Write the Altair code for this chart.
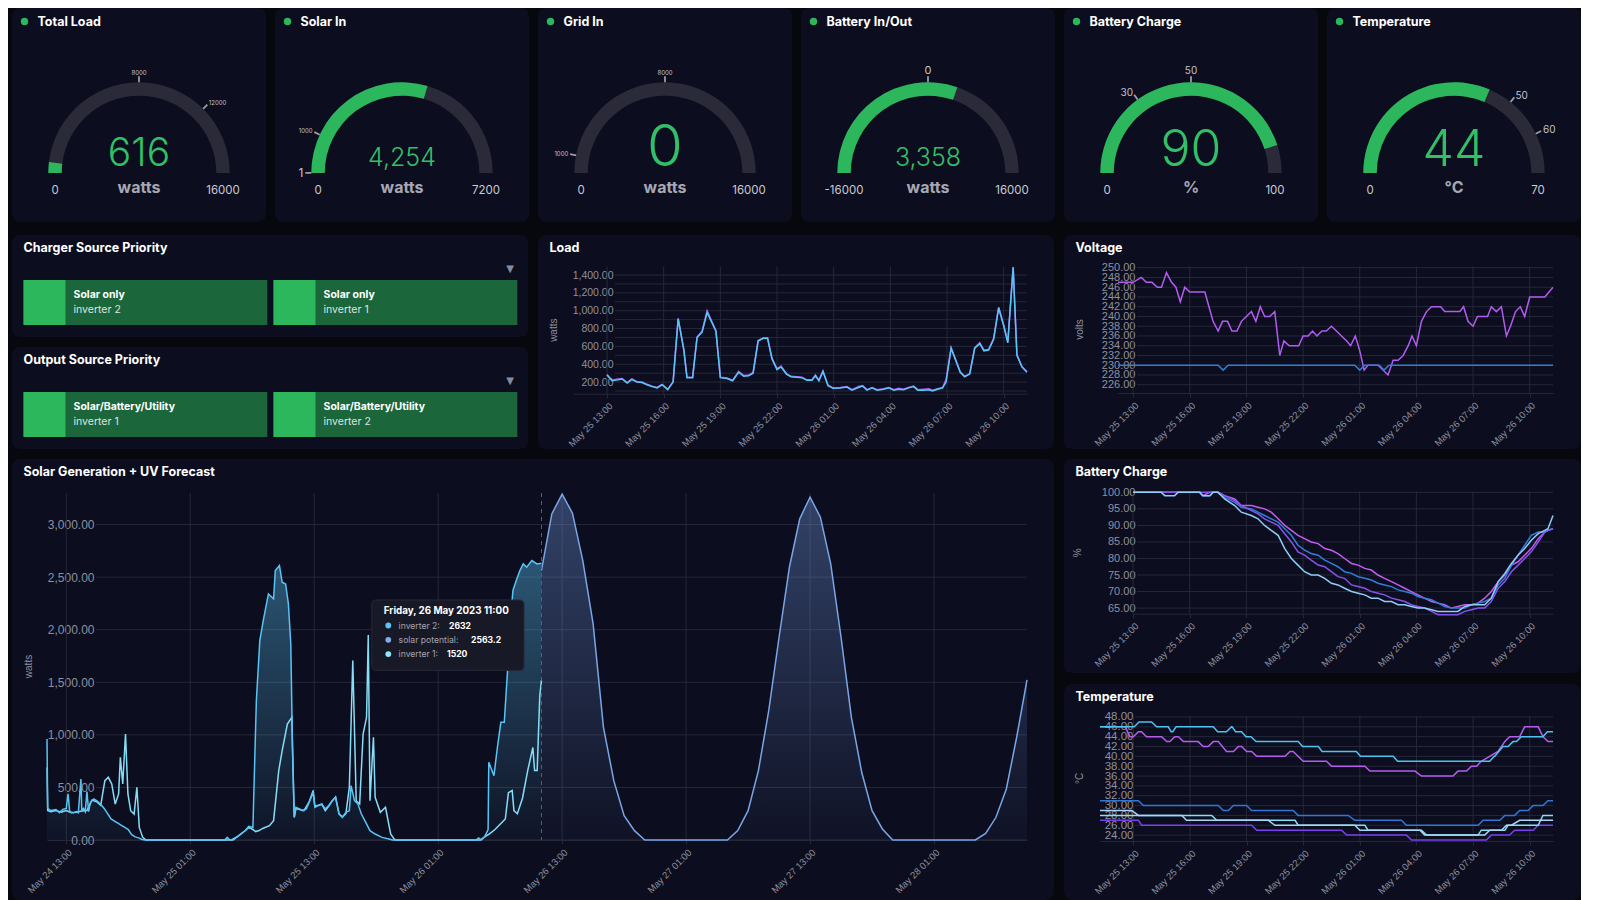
import math
import altair as alt
import pandas as pd

# ------------------------------------------------------------------ data
GAUGE_TITLES = ["Total Load", "Solar In", "Grid In", "Battery In/Out", "Battery Charge", "Temperature"]
GAUGE_VALUES = [616, 4254, 0, 3358, 90, 44]
GAUGE_MIN = [0, 0, 0, -16000, 0, 0]
GAUGE_MAX = [16000, 7200, 16000, 16000, 100, 70]
GAUGE_UNITS = ["watts", "watts", "watts", "watts", "%", "°C"]
GAUGE_MARKS = [[8000, 12000], [1, 1000], [1000, 8000], [0], [30, 50], [50, 60]]

PRIORITY_TITLES = ["Charger Source Priority", "Output Source Priority"]
PRIORITY_MODES = [["Solar only", "Solar only"], ["Solar/Battery/Utility", "Solar/Battery/Utility"]]
PRIORITY_INVERTERS = [["inverter 2", "inverter 1"], ["inverter 1", "inverter 2"]]

DAY_START = "2023-05-25 13:00"
DAY_TICKS = ["2023-05-25 13:00", "2023-05-25 16:00", "2023-05-25 19:00", "2023-05-25 22:00",
             "2023-05-26 01:00", "2023-05-26 04:00", "2023-05-26 07:00", "2023-05-26 10:00"]
LOAD_DOMAIN = ["2023-05-25 11:12", "2023-05-26 11:14"]
VOLT_DOMAIN = ["2023-05-25 12:12", "2023-05-26 11:14"]
BAT_DOMAIN = ["2023-05-25 13:00", "2023-05-26 11:14"]
TEMP_DOMAIN = ["2023-05-25 11:14", "2023-05-26 11:14"]

# minutes after DAY_START
LOAD_MIN = [0, 16, 34, 48, 64, 79, 95, 111, 127, 143, 159, 175, 193, 210, 226, 244, 254, 272, 286, 302,
            318, 334, 346, 360, 381, 399, 418, 434, 450, 464, 480, 496, 510, 524, 540, 553, 570, 584, 603, 619,
            635, 651, 662, 673, 686, 702, 718, 741, 762, 778, 799, 812, 826, 842, 858, 879, 895, 911, 926, 942,
            958, 974, 987, 1006, 1022, 1034, 1050, 1066, 1077, 1093, 1109, 1122, 1136, 1152, 1168, 1184, 1197,
            1212, 1228, 1244, 1260, 1273, 1290, 1302, 1318, 1334]
LOAD_B = [280, 215, 225, 235, 190, 230, 200, 195, 170, 150, 135, 170, 115, 200, 910, 560, 250, 250, 700, 760,
          980, 860, 770, 250, 240, 215, 310, 265, 270, 300, 660, 690, 690, 460, 340, 370, 290, 260, 255, 250,
          220, 220, 270, 215, 320, 160, 130, 135, 145, 110, 140, 155, 110, 135, 110, 120, 135, 110, 120, 115,
          135, 150, 110, 110, 115, 100, 120, 135, 200, 580, 430, 310, 260, 290, 580, 630, 550, 560, 680, 1030,
          830, 640, 1490, 500, 370, 310]
LOAD_A = [285, 220, 235, 240, 195, 235, 205, 200, 175, 155, 140, 175, 120, 205, 915, 565, 255, 255, 705, 770,
          1000, 870, 775, 255, 245, 220, 320, 275, 280, 305, 665, 695, 695, 470, 350, 380, 295, 265, 260, 255,
          225, 225, 280, 220, 325, 165, 135, 140, 150, 115, 150, 160, 115, 140, 115, 125, 140, 115, 130, 120,
          140, 155, 115, 120, 125, 110, 125, 140, 230, 585, 435, 315, 265, 295, 585, 640, 560, 565, 690, 1040,
          840, 650, 1480, 505, 375, 315]

VOLT_A_MIN = [-48, 0, 26, 42, 60, 77, 90, 106, 122, 136, 150, 164, 180, 196, 212, 228, 241, 254, 270, 284,
              300, 314, 330, 344, 360, 376, 390, 404, 418, 434, 450, 466, 479, 496, 510, 526, 540, 556, 570, 584,
              600, 614, 630, 646, 662, 678, 691, 706, 720, 734, 746, 762, 778, 794, 810, 826, 842, 858, 874, 886,
              900, 916, 932, 948, 964, 977, 990, 1006, 1022, 1038, 1050, 1064, 1080, 1094, 1110, 1126, 1138, 1154,
              1170, 1186, 1199, 1215, 1230, 1244, 1260, 1276, 1292, 1308, 1334]
VOLT_A = [247, 247, 248, 247, 247, 246, 246, 249, 247, 246, 243, 246, 245, 245, 245, 245, 242, 239, 237, 239,
          239, 237, 237, 239, 240, 241, 239, 242, 240, 240, 241, 232, 235, 234, 234, 234, 236, 236, 237, 236,
          237, 237, 238, 237, 236, 235, 234, 236, 233, 229, 230, 230, 230, 229, 228, 231, 231, 232, 234, 236,
          234, 239, 241, 242, 242, 242, 241, 241, 241, 241, 242, 239, 238, 240, 240, 240, 242, 241, 242, 236,
          238, 241, 242, 240, 244, 244, 244, 244, 246]
VOLT_B_MIN = [-48, 270, 286, 302, 704, 720, 736, 782, 797, 813, 1334]
VOLT_B = [230, 230, 229, 230, 230, 229, 230, 230, 229, 230, 230]

BAT_MIN = [0, 90, 101, 132, 143, 212, 222, 244, 254, 270, 291, 323, 344, 376, 397, 418, 439, 461, 482, 503,
           524, 545, 566, 588, 609, 630, 651, 672, 694, 715, 736, 757, 778, 799, 821, 842, 863, 884, 905, 926,
           948, 969, 990, 1011, 1032, 1054, 1075, 1096, 1117, 1138, 1160, 1181, 1202, 1223, 1244, 1265, 1287,
           1308, 1318, 1334]
BAT_A = [100, 100, 99, 99, 100, 100, 99, 99, 100, 100, 98, 96, 94, 93, 92, 90, 88.5, 87, 83, 80,
         78, 76, 75, 75, 74, 72.5, 72, 71, 70, 69.5, 69, 68, 68, 67, 67, 66, 66, 65.5, 65, 65,
         64.5, 64, 64, 64, 64, 65.5, 66, 66, 66, 68, 73, 75.5, 78.5, 81, 83, 85.5, 87.5, 88.5, 89, 93]
BAT_B = [100, 100, 100, 100, 100, 100, 99, 99, 100, 100, 98.5, 97, 95.5, 95, 94, 93, 92, 91, 89, 87,
         84, 82.5, 81.5, 81, 79.5, 78.5, 77.5, 76, 75.5, 74.5, 74, 73.5, 72.5, 72, 71.5, 70.5, 70, 69.5, 68.5, 68,
         67.5, 66.5, 65.5, 65, 65, 65, 66, 66.5, 67, 68, 72, 74, 78, 81, 84, 87, 88, 88, 88.5, 89]
BAT_C = [100, 100, 100, 100, 100, 100, 100, 100, 100, 100, 99, 97.5, 96, 94.5, 93.5, 92, 91, 90, 87.5, 85,
         82, 81, 79.5, 78, 77.5, 76, 74.5, 74, 72, 71.5, 71, 70, 69.5, 69, 68, 67.5, 67, 66, 65.5, 65,
         64, 63, 63, 63, 63, 64, 64.5, 65, 65, 67, 71, 73, 76, 78, 80, 82, 85, 88, 88.5, 89]
BAT_D = [100, 100, 100, 100, 100, 100, 99, 100, 100, 100, 99, 98, 96, 96, 95.5, 95, 94, 92, 90, 88.5,
         87, 86, 85, 84.5, 83, 82.5, 81.5, 80, 78.5, 78, 77, 76.5, 75, 74, 73, 72, 71, 70, 69, 68,
         67, 66.5, 66, 65, 65.5, 66, 66, 66.5, 68, 70, 73, 75, 78, 79, 81, 83, 86, 88, 88.5, 89]

T1_MIN = [-106, 3, 18, 58, 74, 111, 120, 125, 136, 254, 268, 296, 312, 314, 325, 344, 358, 374, 390, 524,
          538, 588, 600, 709, 722, 826, 840, 1133, 1147, 1149, 1175, 1191, 1207, 1218, 1233, 1302, 1316, 1334]
T1 = [46, 46, 47, 47, 46, 46, 45, 45, 46, 46, 45, 45, 46, 46, 45, 45, 44, 44, 43, 43,
      42, 42, 41, 41, 40, 40, 39, 39, 40, 40, 42, 42, 43, 43, 44, 44, 45, 45]
T2_MIN = [-106, -26, -11, 0, 16, 26, 42, 90, 106, 116, 132, 143, 159, 206, 222, 238, 254, 270, 296, 318,
          334, 344, 360, 376, 392, 482, 498, 508, 540, 614, 630, 736, 752, 895, 916, 1016, 1032, 1059, 1075, 1091,
          1106, 1159, 1181, 1196, 1228, 1244, 1287, 1302, 1318, 1334]
T2 = [46, 46, 44, 44, 45, 45, 44, 44, 43, 43, 44, 44, 43, 43, 42, 42, 43, 43, 41, 41,
      42, 42, 41, 41, 40, 40, 41, 41, 39, 39, 38, 38, 37, 37, 36, 36, 37, 37, 38, 38,
      39, 41, 43, 44, 44, 46, 46, 44, 43, 43]
T3_MIN = [-106, 16, 32, 270, 286, 302, 318, 360, 376, 508, 524, 683, 704, 852, 868, 1096, 1112, 1165, 1181,
          1212, 1228, 1255, 1271, 1302, 1318, 1334]
T3 = [31, 31, 30, 30, 29, 29, 30, 30, 29, 29, 28, 28, 27, 27, 26, 26, 27, 27, 28, 28, 29, 29, 30, 30, 31, 31]
T4_MIN = [-106, -5, 16, 154, 169, 429, 450, 704, 720, 911, 926, 1117, 1133, 1170, 1186, 1202, 1228, 1334]
T4 = [29, 29, 28, 28, 27, 27, 26, 26, 25, 25, 24, 24, 25, 25, 26, 26, 27, 27]
T5_MIN = [-106, 249, 265, 514, 524, 736, 746, 916, 932, 1096, 1106, 1181, 1191, 1287, 1302, 1334]
T5 = [28, 28, 27, 27, 26, 26, 25, 25, 24, 24, 25, 25, 26, 26, 28, 28]
T6_MIN = [-106, 16, 26, 376, 392, 662, 678, 868, 884, 1122, 1138, 1196, 1212, 1271, 1287, 1334]
T6 = [27, 27, 26, 26, 25, 25, 24, 24, 23, 23, 24, 24, 25, 25, 26, 26]

SOLAR_DOMAIN = ["2023-05-24 11:08", "2023-05-28 10:00"]
SOLAR_TICKS = ["2023-05-24 13:00", "2023-05-25 01:00", "2023-05-25 13:00", "2023-05-26 01:00",
               "2023-05-26 13:00", "2023-05-27 01:00", "2023-05-27 13:00", "2023-05-28 01:00"]
INV2_T = ["05-24 11:08", "05-24 11:12", "05-24 11:30", "05-24 12:00", "05-24 12:20", "05-24 12:40", "05-24 13:00",
          "05-24 13:10", "05-24 13:20", "05-24 13:40", "05-24 14:00", "05-24 14:10", "05-24 14:25", "05-24 14:30",
          "05-24 14:40", "05-24 14:50", "05-24 15:00", "05-24 15:10", "05-24 15:20", "05-24 15:40", "05-24 16:00",
          "05-24 16:20", "05-24 16:40", "05-24 17:00", "05-24 17:20", "05-24 17:40", "05-24 18:00", "05-24 18:20",
          "05-24 18:40", "05-24 19:00", "05-24 19:20", "05-24 19:40", "05-24 20:00", "05-24 20:20", "05-24 20:40",
          "05-25 04:20", "05-25 04:35", "05-25 04:50", "05-25 05:10", "05-25 05:40", "05-25 06:20", "05-25 06:40",
          "05-25 07:04", "05-25 07:24", "05-25 07:44", "05-25 08:04", "05-25 08:34", "05-25 09:04", "05-25 09:14",
          "05-25 09:38", "05-25 09:54", "05-25 10:14", "05-25 10:30", "05-25 10:44", "05-25 10:54", "05-25 11:04",
          "05-25 11:14", "05-25 11:34", "05-25 11:54", "05-25 12:14", "05-25 12:34", "05-25 12:54", "05-25 13:04",
          "05-25 13:24", "05-25 13:44", "05-25 14:04", "05-25 14:24", "05-25 14:44", "05-25 15:04", "05-25 15:24",
          "05-25 15:44", "05-25 16:04", "05-25 16:24", "05-25 16:34", "05-25 16:54", "05-25 17:14", "05-25 17:34",
          "05-25 17:54", "05-25 18:24", "05-25 18:54", "05-25 19:34", "05-25 20:14", "05-25 20:34",
          "05-26 04:40", "05-26 04:55", "05-26 05:10", "05-26 05:30", "05-26 05:50", "05-26 05:54", "05-26 06:24",
          "05-26 06:44", "05-26 07:04", "05-26 07:24", "05-26 07:44", "05-26 08:00", "05-26 08:14", "05-26 08:34",
          "05-26 08:54", "05-26 09:14", "05-26 09:34", "05-26 10:04", "05-26 10:34", "05-26 11:00"]
INV2 = [960, 300, 280, 290, 260, 290, 300, 440, 270, 260, 270, 260, 580, 280, 300, 270, 460, 270, 360, 390,
        370, 340, 300, 250, 200, 180, 160, 140, 120, 100, 50, 30, 20, 5, 0,
        0, 25, 0, 0, 40, 90, 130, 120, 1325, 1896, 2087, 2340, 2293, 2562, 2610, 2451, 2435, 2245, 1864, 850,
        216, 311, 295, 279, 295, 374, 453, 311, 327, 342, 295, 327, 374, 406, 247, 216, 263, 279, 517, 374,
        342, 247, 184, 89, 57, 25, 10, 0,
        0, 20, 0, 30, 100, 739, 612, 882, 1119, 1120, 1640, 2087, 2372, 2470, 2560, 2626, 2594, 2657, 2626, 2632]
INV1_T = ["05-24 11:08", "05-24 11:12", "05-24 11:30", "05-24 12:00", "05-24 12:30", "05-24 13:00", "05-24 13:30",
          "05-24 14:00", "05-24 14:30", "05-24 15:00", "05-24 15:30", "05-24 16:00", "05-24 16:20", "05-24 16:44",
          "05-24 17:04", "05-24 17:24", "05-24 17:44", "05-24 18:04", "05-24 18:14", "05-24 18:28", "05-24 18:44",
          "05-24 18:58", "05-24 19:14", "05-24 19:34", "05-24 19:50", "05-24 20:04", "05-24 20:24", "05-24 20:44",
          "05-25 05:00", "05-25 05:10", "05-25 05:40", "05-25 06:20", "05-25 06:40", "05-25 07:04", "05-25 07:20",
          "05-25 07:40", "05-25 08:00", "05-25 08:40", "05-25 09:04", "05-25 09:34", "05-25 09:54", "05-25 10:24",
          "05-25 10:50", "05-25 11:04", "05-25 11:14", "05-25 11:34", "05-25 12:00", "05-25 12:30", "05-25 12:54",
          "05-25 13:04", "05-25 13:24", "05-25 13:44", "05-25 14:04", "05-25 14:24", "05-25 14:44", "05-25 15:04",
          "05-25 15:24", "05-25 15:44", "05-25 16:04", "05-25 16:24", "05-25 16:44", "05-25 17:04", "05-25 17:24",
          "05-25 17:44", "05-25 18:04", "05-25 18:14", "05-25 18:24", "05-25 18:44", "05-25 18:54", "05-25 19:24",
          "05-25 19:54", "05-25 20:24", "05-25 20:44", "05-25 20:54",
          "05-26 05:04", "05-26 05:30", "05-26 06:00", "05-26 06:30", "05-26 07:00", "05-26 07:30", "05-26 07:48",
          "05-26 08:10", "05-26 08:20", "05-26 08:40", "05-26 09:10", "05-26 09:40", "05-26 10:10", "05-26 10:20",
          "05-26 10:35", "05-26 10:50", "05-26 11:00"]
INV1 = [690, 280, 270, 280, 265, 280, 260, 265, 275, 280, 380, 360, 330, 564, 596, 533, 342, 438, 786, 533,
        1008, 438, 279, 247, 501, 120, 25, 0,
        0, 10, 40, 90, 120, 100, 80, 90, 110, 136, 184, 660, 850, 1103, 1167, 216, 300, 290, 280, 360, 470,
        320, 330, 340, 280, 320, 370, 410, 250, 220, 250, 501, 1706, 374, 342, 1008, 1167, 1950, 374, 977, 406,
        263, 311, 57, 10, 0,
        0, 30, 60, 100, 150, 200, 450, 470, 280, 250, 400, 660, 880, 660, 660, 1370, 1520]
POT_T = ["05-26 11:00", "05-26 12:00", "05-26 13:00", "05-26 14:00", "05-26 15:00", "05-26 16:00", "05-26 17:00",
         "05-26 18:00", "05-26 19:00", "05-26 20:00", "05-26 21:00", "05-27 05:00", "05-27 06:00", "05-27 07:00",
         "05-27 08:00", "05-27 09:00", "05-27 10:00", "05-27 11:00", "05-27 12:00", "05-27 13:00", "05-27 14:00",
         "05-27 15:00", "05-27 16:00", "05-27 17:00", "05-27 18:00", "05-27 19:00", "05-27 20:00", "05-27 21:00",
         "05-28 05:00", "05-28 06:00", "05-28 07:00", "05-28 08:00", "05-28 09:00", "05-28 10:00"]
POT = [2563.2, 3101, 3290, 3108, 2657, 2055, 1072, 564, 231, 89, 0, 0, 89, 279, 660, 1230, 1928, 2594, 3054,
       3260, 3070, 2626, 1928, 1167, 644, 279, 105, 0, 0, 63, 216, 485, 977, 1522]
HOVER_TIME = "05-26 11:00"

# ------------------------------------------------------------------ style
PAGE_BG = "#07080e"
CARD_BG = "#0c0d1e"
GREEN = "#2cb75d"
GREEN_TXT = "#31c068"
DARK_GREEN = "#1b663b"
TRACK = "#2a2a39"
GRID = "#262839"
AXIS_TXT = "#8e91a0"
WHITE = "#ffffff"
FONT = "Inter"
AXFONT = "Liberation Sans"
GAUGE_VALUE_SIZE = [39, 25, 58, 25, 50, 50]
GAUGE_MARK_SIZE = [[6, 6], [12, 6], [6, 6], [11], [10, 10], [10, 10]]

ONE = pd.DataFrame({"k": [0]})


def dt(s):
    ts = pd.Timestamp(s)
    return alt.DateTime(year=ts.year, month=ts.month, date=ts.day, hours=ts.hour, minutes=ts.minute)


def day_df(mins, vals):
    base = pd.Timestamp(DAY_START)
    return pd.DataFrame({"t": [base + pd.Timedelta(minutes=m) for m in mins], "v": vals})


def solar_df(labels, vals):
    return pd.DataFrame({"t": [pd.Timestamp("2023-" + s) for s in labels], "v": vals})


def label(text, x, y, size=12.5, weight="bold", color=WHITE, align="left", font=FONT,
          angle=None, baseline="middle"):
    kw = dict(text=text, fontSize=size, fontWeight=weight, color=color, align=align,
              baseline=baseline, font=font)
    if angle is not None:
        kw["angle"] = angle
    return alt.Chart(ONE).mark_text(**kw).encode(x=alt.value(x), y=alt.value(y))


# ------------------------------------------------------------------ gauges
def gauge(i):
    W, H, CX, CY = 254, 214, 127, 165
    R_IN, R_OUT = 77.3, 90.7
    mn, mx, val = GAUGE_MIN[i], GAUGE_MAX[i], GAUGE_VALUES[i]
    span = mx - mn
    TS = alt.Scale(domain=[mn, mx], range=[-math.pi / 2, math.pi / 2])

    def arc(a, b, r0, r1, color):
        return alt.Chart(pd.DataFrame({"a": [a], "b": [b]})).mark_arc(
            innerRadius=r0, outerRadius=r1, color=color).encode(
            theta=alt.Theta("a:Q", scale=TS, stack=False), theta2=alt.Theta2("b"),
            x=alt.value(CX), y=alt.value(CY))

    layers = [
        alt.Chart(ONE).mark_circle(size=55, color=GREEN, opacity=1).encode(x=alt.value(12.5), y=alt.value(13.5)),
        label(GAUGE_TITLES[i], 25.5, 13.5),
        arc(mn, mx, R_IN, R_OUT, TRACK),
    ]
    if val > mn:
        layers.append(arc(mn, val, R_IN, R_OUT, GREEN))
    for k, m in enumerate(GAUGE_MARKS[i]):
        layers.append(arc(m - 0.003 * span, m + 0.003 * span, R_OUT, R_OUT + 6, "#9c9eab"))
        fs = GAUGE_MARK_SIZE[i][k]
        ang = (m - mn) / span * math.pi - math.pi / 2
        if ang < -0.35:
            align, rad = "right", R_OUT + 8
        elif ang > 0.35:
            align, rad = "left", R_OUT + 8
        else:
            align, rad = "center", R_OUT + 7 + fs * 0.4
        layers.append(
            alt.Chart(pd.DataFrame({"m": [m], "lab": [str(m)]})).mark_text(
                radius=rad, fontSize=fs, font=FONT, color="#c3c4cc",
                align=align, baseline="middle").encode(
                theta=alt.Theta("m:Q", scale=TS, stack=False), text="lab:N",
                x=alt.value(CX), y=alt.value(CY)))
    layers += [
        label(f"{val:,}", CX, 158, size=GAUGE_VALUE_SIZE[i], weight=300, color=GREEN_TXT,
              align="center", baseline="alphabetic"),
        label(GAUGE_UNITS[i], CX, 185, size=16, weight="bold", color="#a7a8b3", align="center",
              baseline="alphabetic"),
        label(str(mn), CX - 84, 186, size=11.5, weight="normal", color="#c9cad3", align="center",
              baseline="alphabetic"),
        label(str(mx), CX + 84, 186, size=11.5, weight="normal", color="#c9cad3", align="center",
              baseline="alphabetic"),
    ]
    return alt.layer(*layers).properties(width=W, height=H)


# ------------------------------------------------------------------ priority cards
def priority(j):
    W, H = 516, 102
    XS = alt.Scale(domain=[0, 2], range=[11.5, 511.5], nice=False, zero=False)
    slots = pd.DataFrame({"slot": [0, 1], "mode": PRIORITY_MODES[j], "inv": PRIORITY_INVERTERS[j]})
    base = alt.Chart(slots).transform_calculate(
        x_end="datum.slot + 243.8/250", x_sq="datum.slot + 42/250", x_txt="datum.slot + 50/250")
    xs = alt.X("slot:Q", scale=XS, axis=None)
    layers = [
        label(PRIORITY_TITLES[j], 11.5, 13),
        label("▼", 498, 34, size=10, weight="normal", color="#8a8c99", align="center", font="DejaVu Sans"),
        base.mark_rect(color=DARK_GREEN).encode(x=xs, x2=alt.X2("x_end"), y=alt.value(45), y2=alt.value(90)),
        base.mark_rect(color=GREEN).encode(x=xs, x2=alt.X2("x_sq"), y=alt.value(45), y2=alt.value(90)),
        base.mark_text(align="left", baseline="middle", font=FONT, fontWeight="bold", fontSize=10.5,
                       color=WHITE).encode(x=alt.X("x_txt:Q", scale=XS, axis=None), y=alt.value(60.3),
                                           text="mode:N"),
        base.mark_text(align="left", baseline="middle", font=FONT, fontSize=10.5,
                       color="#dfe3e0").encode(x=alt.X("x_txt:Q", scale=XS, axis=None), y=alt.value(74.6),
                                              text="inv:N"),
    ]
    return alt.layer(*layers).properties(width=W, height=H)


# ------------------------------------------------------------------ time-series cards
def ts_panel(title, W, H, px, py, xdom, xticks, ydom, ygrid, ylabels, lab_end, ytitle, ytitle_x,
             lines, under=(), over=(), yfont=10, xfont=9.5):
    X = alt.X("t:T", title=None,
              scale=alt.Scale(domain=[dt(s) for s in xdom], range=list(px), nice=False),
              axis=alt.Axis(values=[dt(s) for s in xticks], format="%b %d %H:%M", labelAngle=-45,
                            labelAlign="right", labelBaseline="top", labelFontSize=xfont, labelFont=AXFONT,
                            labelColor=AXIS_TXT, labelPadding=3, labelOverlap=False, labelFlush=False,
                            grid=False, domainColor=GRID, tickColor=GRID, tickSize=4, offset=-(H - py[1])))
    Y = alt.Y("v:Q", title=None,
              scale=alt.Scale(domain=ydom, range=[py[1], py[0]], nice=False, zero=False),
              axis=alt.Axis(values=ylabels, format=",.2f", offset=-(lab_end + 2), domain=False, ticks=False,
                            grid=False, labelPadding=2, labelFontSize=yfont, labelFont=AXFONT,
                            labelColor=AXIS_TXT, labelOverlap=False))
    layers = [
        label(title, 11.5, 13),
        label(ytitle, ytitle_x, (py[0] + py[1]) / 2, size=10, weight="normal", color=AXIS_TXT,
              align="center", font=AXFONT, angle=270),
        alt.Chart(pd.DataFrame({"v": ygrid})).mark_rule(color=GRID, strokeWidth=1).encode(
            y=Y, x=alt.value(lab_end + 2), x2=alt.value(px[1])),
        alt.Chart(pd.DataFrame({"t": [pd.Timestamp(s) for s in xticks]})).mark_rule(
            color=GRID, strokeWidth=1).encode(x=X, y=alt.value(py[0]), y2=alt.value(py[1])),
    ]
    for u in under:
        layers += u(X, Y)
    for df, color in lines:
        layers.append(alt.Chart(df).mark_line(color=color, strokeWidth=1.5).encode(x=X, y=Y))
    for o in over:
        layers += o(X, Y)
    return alt.layer(*layers).properties(width=W, height=H)


def steps(a, b, s):
    out, v = [], a
    while v <= b + 1e-9:
        out.append(round(v, 4))
        v += s
    return out


load = ts_panel("Load", 516, 214, (35, 489), (31.7, 158.7), LOAD_DOMAIN, DAY_TICKS, [70, 1493],
                steps(100, 1400, 100), steps(200, 1400, 200), 75, "watts", 16,
                [(day_df(LOAD_MIN, LOAD_A), "#a657f2"), (day_df(LOAD_MIN, LOAD_B), "#58c6f6")], yfont=10.5)

volt = ts_panel("Voltage", 517, 214, (54, 489), (31, 158), VOLT_DOMAIN, DAY_TICKS, [224.3, 250.35],
                steps(226, 250, 2), steps(226, 250, 2), 71, "volts", 16,
                [(day_df(VOLT_A_MIN, VOLT_A), "#b35cf0"), (day_df(VOLT_B_MIN, VOLT_B), "#2f7fd8")], yfont=11)

bat = ts_panel("Battery Charge", 517, 214, (69, 489), (32.7, 154.7), BAT_DOMAIN, DAY_TICKS, [63.3, 100.2],
               steps(65, 100, 5), steps(65, 100, 5), 71, "%", 14,
               [(day_df(BAT_MIN, BAT_D), "#c35df0"), (day_df(BAT_MIN, BAT_B), "#2f7ed8"),
                (day_df(BAT_MIN, BAT_C), "#8454f0"), (day_df(BAT_MIN, BAT_A), "#8ecdf5")], yfont=11)

temp = ts_panel("Temperature", 517, 216, (36, 489), (32, 157), TEMP_DOMAIN, DAY_TICKS, [22.8, 48.2],
                steps(24, 48, 2), steps(24, 48, 2), 69, "°C", 16,
                [(day_df(T6_MIN, T6), "#7a40f0"), (day_df(T5_MIN, T5), "#7fe3f3"),
                 (day_df(T4_MIN, T4), "#a9d6f5"), (day_df(T3_MIN, T3), "#2f78d6"),
                 (day_df(T2_MIN, T2), "#b65cf0"), (day_df(T1_MIN, T1), "#4cc3f0")], yfont=11.5)

# solar
INV2_DF = solar_df(INV2_T, INV2)
INV1_DF = solar_df(INV1_T, INV1)
POT_DF = solar_df(POT_T, POT)


def grad(rgb, top, bottom):
    return alt.Gradient(gradient="linear",
                        stops=[alt.GradientStop(color=f"rgba({rgb},{top})", offset=0),
                               alt.GradientStop(color=f"rgba({rgb},{bottom})", offset=1)],
                        x1=1, x2=1, y1=0, y2=1)


def solar_under(X, Y):
    return [
        alt.Chart(POT_DF).mark_area(color=grad("118,160,232", 0.36, 0.04)).encode(x=X, y=Y),
        alt.Chart(INV2_DF).mark_area(color=grad("90,196,245", 0.40, 0.04)).encode(x=X, y=Y),
    ]


def solar_over(X, Y):
    hover = pd.Timestamp("2023-" + HOVER_TIME)
    rows = [("inverter 2:", INV2[INV2_T.index(HOVER_TIME)], "#58c6f6", 437),
            ("solar potential:", POT[POT_T.index(HOVER_TIME)], "#86a9ee", 459),
            ("inverter 1:", INV1[INV1_T.index(HOVER_TIME)], "#8fe5fa", 435)]
    out = [
        alt.Chart(pd.DataFrame({"t": [hover]})).mark_rule(color="#5d6075", strokeDash=[4, 4]).encode(
            x=X, y=alt.value(34), y2=alt.value(381)),
        alt.Chart(ONE).mark_rect(color="#181926", stroke="#262838", cornerRadius=4).encode(
            x=alt.value(359.8), x2=alt.value(512), y=alt.value(141), y2=alt.value(211.4)),
        label(hover.strftime("%A, %d %B %Y %H:%M"), 371.8, 152, size=9.8),
    ]
    for k, (name, v, c, vx) in enumerate(rows):
        yy = 166.5 + 14.3 * k
        out.append(alt.Chart(ONE).mark_circle(size=34, color=c, opacity=1).encode(
            x=alt.value(376.3), y=alt.value(yy)))
        out.append(label(name, 386.6, yy, size=8.6, weight="normal", color="#a3a5b1"))
        out.append(label(f"{v:g}", vx, yy, size=8.6, weight="bold"))
    return out


solar = ts_panel("Solar Generation + UV Forecast", 1042, 441, (35, 1015), (34, 381), SOLAR_DOMAIN, SOLAR_TICKS,
                 [0, 3300], steps(0, 3000, 500), steps(0, 3000, 500), 82, "watts", 16.6,
                 [(INV1_DF, "#86def6"), (INV2_DF, "#58c4f6"), (POT_DF, "#79a6e6")],
                 under=(solar_under,), over=(solar_over,), yfont=12)

# ------------------------------------------------------------------ layout
row1 = alt.hconcat(*[gauge(i) for i in range(6)], spacing=9)
left_col = alt.vconcat(priority(0), priority(1), spacing=10)
row2 = alt.hconcat(left_col, load, volt, spacing=10)
right_col = alt.vconcat(bat, temp, spacing=11)
row3 = alt.hconcat(solar, right_col, spacing=10)
top = alt.vconcat(row1, row2, spacing=13)

chart = alt.vconcat(top, row3, spacing=10).properties(
    background=PAGE_BG, padding={"left": 4, "top": 0, "right": 0, "bottom": 0}
).configure_view(strokeWidth=0, fill=CARD_BG, cornerRadius=8)

chart.save("out.html", embed_options={"renderer": "svg", "actions": False})
